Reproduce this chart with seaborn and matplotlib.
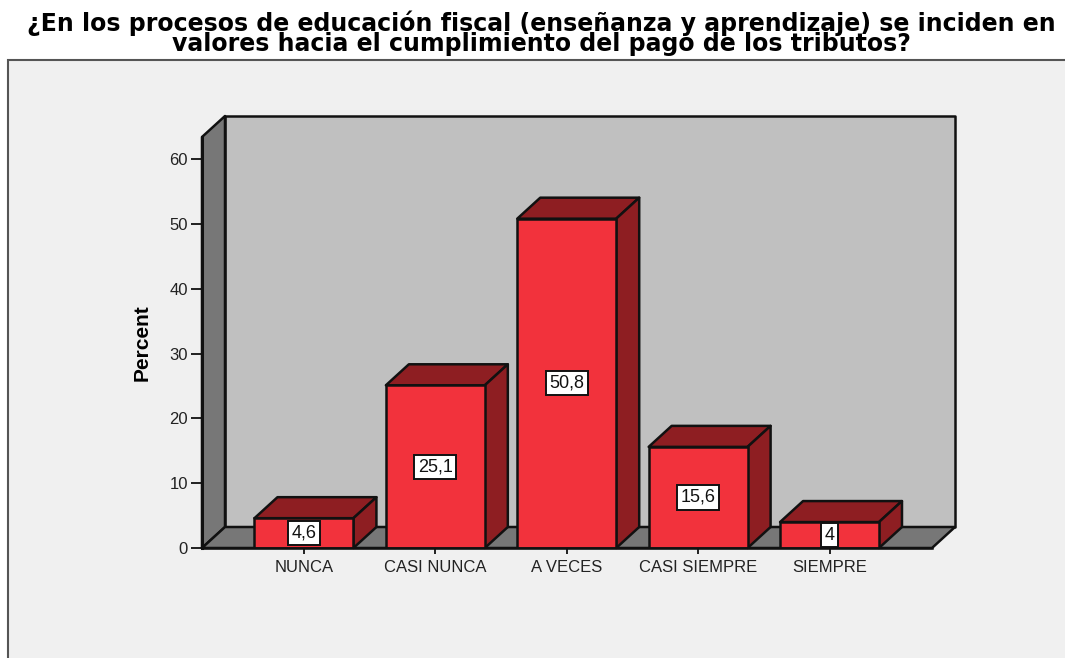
import matplotlib
matplotlib.use('Agg')
import matplotlib.pyplot as plt
import pandas as pd
import seaborn as sns
from matplotlib.patches import Polygon, Rectangle

categories = ['NUNCA', 'CASI NUNCA', 'A VECES', 'CASI SIEMPRE', 'SIEMPRE']
percent = [4.6, 25.1, 50.8, 15.6, 4.0]
value_labels = ['4,6', '25,1', '50,8', '15,6', '4']
yticks = [0, 10, 20, 30, 40, 50, 60]
title = ('¿En los procesos de educación fiscal (enseñanza y aprendizaje) se inciden en\n'
         'valores hacia el cumplimiento del pago de los tributos?')

W, H = 1065, 658
RED = '#f2323c'
DARK_RED = '#8e1e22'
WALL = '#c0c0c0'
SIDE = '#777777'
PANEL = '#f0f0f0'
INK = '#111111'

sns.set_theme(style='white')
plt.rcParams['font.family'] = ['Liberation Sans', 'DejaVu Sans']

df = pd.DataFrame({'cat': categories, 'pct': percent})

fig = plt.figure(figsize=(W / 100, H / 100), dpi=100, facecolor='white')
fig.add_artist(Rectangle((8 / W, -0.05), 1.1, 1.05 - 60 / H, transform=fig.transFigure,
                         facecolor=PANEL, edgecolor='#555555', linewidth=1.5, zorder=-1))

# front plane of the fake 3d box, in pixels of the image
ax = fig.add_axes([202 / W, 1 - 548 / H, 730 / W, 411 / H])
ax.patch.set_visible(False)

sns.barplot(data=df, x='cat', y='pct', color=RED, saturation=1, width=0.753,
            edgecolor=INK, linewidth=1.8, zorder=5, ax=ax)

ax.set_xlim(-0.776, 4.78)
ax.set_ylim(0, 63.4)

# depth of the box in data units (23 px right, 21 px up)
dx = 23 / 730 * (ax.get_xlim()[1] - ax.get_xlim()[0])
dy = 21 / 411 * ax.get_ylim()[1]
x0, x1 = ax.get_xlim()
y0, y1 = ax.get_ylim()


def quad(pts, fc, z):
    ax.add_patch(Polygon(pts, closed=True, facecolor=fc, edgecolor=INK, linewidth=1.8,
                         zorder=z, clip_on=False, joinstyle='round'))


quad([(x0 + dx, y0 + dy), (x1 + dx, y0 + dy), (x1 + dx, y1 + dy), (x0 + dx, y1 + dy)], WALL, 1)
quad([(x0, y0), (x0 + dx, y0 + dy), (x0 + dx, y1 + dy), (x0, y1)], SIDE, 2)
quad([(x0, y0), (x1, y0), (x1 + dx, y0 + dy), (x0 + dx, y0 + dy)], SIDE, 2)

for bar in ax.containers[0]:
    a, b, h = bar.get_x(), bar.get_x() + bar.get_width(), bar.get_height()
    quad([(a, h), (b, h), (b + dx, h + dy), (a + dx, h + dy)], DARK_RED, 4)
    quad([(b, 0), (b + dx, dy), (b + dx, h + dy), (b, h)], DARK_RED, 4)

ax.bar_label(ax.containers[0], labels=value_labels, label_type='center', fontsize=13,
             color=INK, zorder=8,
             bbox=dict(boxstyle='square,pad=0.2', facecolor='white', edgecolor=INK, linewidth=1.4))

sns.despine(ax=ax)
ax.spines['left'].set_linewidth(2.2)
ax.spines['bottom'].set_linewidth(1.8)
ax.spines['left'].set_color(INK)
ax.spines['bottom'].set_color(INK)
ax.spines['left'].set_zorder(6)
ax.spines['bottom'].set_zorder(6)

ax.set_yticks(yticks)
ax.tick_params(axis='y', length=8, width=1.3, color=INK, labelsize=12, labelcolor='#222222', pad=2, left=True)
ax.tick_params(axis='x', length=4, width=1.3, color=INK, labelsize=12, labelcolor='#222222', pad=5, bottom=True)
ax.set_xlabel('')
ax.set_ylabel('')

fig.text(142 / W, 1 - 343 / H, 'Percent', rotation=90, ha='center', va='center',
         fontsize=15, fontweight='bold', color='black',
         family=['Liberation Sans Narrow', 'Liberation Sans'])
fig.text(541 / W, 1 - 33 / H, title, ha='center', va='center', fontsize=17, fontweight='bold',
         color='black', linespacing=0.8, family=['DejaVu Sans'])

fig.savefig('out.png', dpi=100)
